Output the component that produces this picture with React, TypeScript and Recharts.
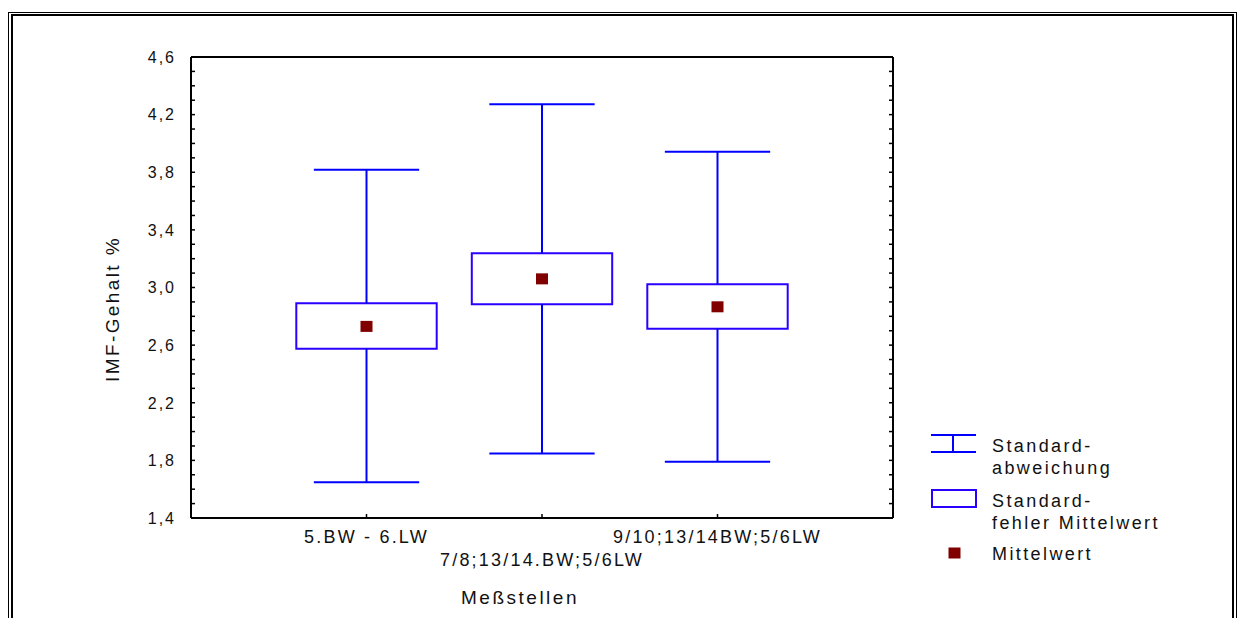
import React from 'react';
import { ComposedChart, XAxis, YAxis, Scatter, ReferenceArea, ReferenceLine, Legend } from 'recharts';

const categories = ['5.BW - 6.LW', '7/8;13/14.BW;5/6LW', '9/10;13/14BW;5/6LW'];
const positions = [1, 2, 3];
const means = [2.73, 3.06, 2.866];
const sdLow = [1.649, 1.848, 1.79];
const sdHigh = [3.817, 4.272, 3.942];
const seLow = [2.574, 2.883, 2.713];
const seHigh = [2.89, 3.237, 3.022];
const yTicks = [1.4, 1.5, 1.6, 1.7, 1.8, 1.9, 2.0, 2.1, 2.2, 2.3, 2.4, 2.5, 2.6, 2.7, 2.8, 2.9, 3.0, 3.1, 3.2, 3.3, 3.4, 3.5, 3.6, 3.7, 3.8, 3.9, 4.0, 4.1, 4.2, 4.3, 4.4, 4.5, 4.6];
const yLabelTicks = [1.4, 1.8, 2.2, 2.6, 3.0, 3.4, 3.8, 4.2, 4.6];
const legendLabels = [['Standard-', 'abweichung'], ['Standard-', 'fehler Mittelwert'], ['Mittelwert']];
const xTitle = 'Meßstellen';
const yTitle = 'IMF-Gehalt %';

const FONT = '"Liberation Sans", Arial, sans-serif';
const WHISKER = '#0000ff';
const BOX = '#2a00ff';
const MEAN = '#800000';
const CAP = 0.3;
const HALF = 0.4;

const data = positions.map((p, i) => ({ x: p, y: means[i] }));

const isMajor = (v: number) => yLabelTicks.some((t) => Math.abs(t - v) < 1e-6);

const LeftTick = (props: any) => {
  const { x, y, payload } = props;
  const v = payload.value as number;
  return (
    <g>
      <line x1={x} x2={x + 4} y1={y} y2={y} stroke="#000" strokeWidth={1.5} />
      {isMajor(v) && (
        <text x={x - 15} y={y} dy="0.36em" textAnchor="end" fontFamily={FONT} fontSize={16} fill="#111" style={{ letterSpacing: '2px' }}>
          {v.toFixed(1).replace('.', ',')}
        </text>
      )}
    </g>
  );
};

const RightTick = (props: any) => {
  const { x, y } = props;
  return <line x1={x - 4} x2={x} y1={y} y2={y} stroke="#000" strokeWidth={1.5} />;
};

const BottomTick = (props: any) => {
  const { x, y, payload } = props;
  const idx = positions.indexOf(payload.value);
  const label = categories[idx] ?? '';
  const dy = idx === 1 ? 48 : 25;
  return (
    <g>
      <line x1={x} x2={x} y1={y - 4} y2={y} stroke="#000" strokeWidth={1.5} />
      <text x={x} y={y + dy} textAnchor="middle" fontFamily={FONT} fontSize={18} fill="#111" style={{ letterSpacing: '2.2px' }}>
        {label}
      </text>
    </g>
  );
};

const XTitle = (props: any) => {
  const vb = props.viewBox || { x: 183, y: 510, width: 702 };
  return (
    <text x={vb.x + vb.width / 2 - 22} y={596} textAnchor="middle" fontFamily={FONT} fontSize={19} fill="#111" style={{ letterSpacing: '2.5px' }}>
      {xTitle}
    </text>
  );
};

const YTitle = () => (
  <text x={104} y={301} transform="rotate(-90 104 301)" textAnchor="middle" dy="0.36em" fontFamily={FONT} fontSize={19} fill="#111" style={{ letterSpacing: '2.4px' }}>
    {yTitle}
  </text>
);

const MeanShape = (props: any) => {
  const { cx, cy } = props;
  return <rect x={cx - 6} y={cy - 5.5} width={12} height={11} fill={MEAN} />;
};

const NoShape = () => <g />;

const LegendContent = () => (
  <svg width={300} height={160} style={{ display: 'block' }}>
    <g fontFamily={FONT} fontSize={18} fill="#111" style={{ letterSpacing: '2.4px' }}>
      <line x1={16} x2={61} y1={15} y2={15} stroke={WHISKER} strokeWidth={2} />
      <line x1={16} x2={61} y1={32} y2={32} stroke={WHISKER} strokeWidth={2} />
      <line x1={38} x2={38} y1={15} y2={32} stroke={WHISKER} strokeWidth={2} />
      <text x={77} y={32}>{legendLabels[0][0]}</text>
      <text x={77} y={54}>{legendLabels[0][1]}</text>
      <rect x={17} y={70} width={44} height={17} fill="#fff" stroke={BOX} strokeWidth={2} />
      <text x={77} y={87}>{legendLabels[1][0]}</text>
      <text x={77} y={109}>{legendLabels[1][1]}</text>
      <rect x={33.5} y={127.5} width={12} height={11} fill={MEAN} />
      <text x={77} y={140}>{legendLabels[2][0]}</text>
    </g>
  </svg>
);

export default function App() {
  return (
    <div style={{ position: 'relative', width: 1229, height: 610, overflow: 'hidden', background: '#fff' }}>
      <div style={{ position: 'absolute', left: 0, top: 4, width: 1229, height: 700, border: '1px solid #000', boxSizing: 'border-box' }} />
      <div style={{ position: 'absolute', left: 3, top: 6, width: 1223, height: 700, border: '2px solid #000', boxSizing: 'border-box' }} />
      <div style={{ position: 'absolute', left: 0, top: 0 }}>
        <ComposedChart width={1229} height={610} data={data} margin={{ top: 48, right: 343, bottom: 0, left: 0 }}>
          <XAxis
            dataKey="x"
            type="number"
            domain={[0, 4]}
            ticks={positions}
            interval={0}
            allowDataOverflow
            height={100}
            tickSize={0}
            tickMargin={0}
            tickLine={false}
            axisLine={{ stroke: '#000', strokeWidth: 2 }}
            tick={<BottomTick />}
            label={<XTitle />}
          />
          <XAxis
            xAxisId="top"
            dataKey="x"
            orientation="top"
            type="number"
            domain={[0, 4]}
            ticks={positions}
            allowDataOverflow
            height={1}
            tick={false}
            tickLine={false}
            axisLine={{ stroke: '#000', strokeWidth: 2 }}
          />
          <YAxis
            type="number"
            domain={[1.4, 4.6]}
            ticks={yTicks}
            interval={0}
            allowDataOverflow
            width={183}
            tickSize={0}
            tickMargin={0}
            tickLine={false}
            axisLine={{ stroke: '#000', strokeWidth: 2 }}
            tick={<LeftTick />}
            label={<YTitle />}
          />
          <YAxis
            yAxisId="right"
            orientation="right"
            type="number"
            domain={[1.4, 4.6]}
            ticks={yTicks}
            interval={0}
            allowDataOverflow
            width={1}
            tickSize={0}
            tickMargin={0}
            tickLine={false}
            axisLine={{ stroke: '#000', strokeWidth: 2 }}
            tick={<RightTick />}
          />
          {positions.map((p, i) => (
            <ReferenceLine key={`wu${i}`} segment={[{ x: p, y: seHigh[i] }, { x: p, y: sdHigh[i] }]} stroke={WHISKER} strokeWidth={2} />
          ))}
          {positions.map((p, i) => (
            <ReferenceLine key={`wl${i}`} segment={[{ x: p, y: sdLow[i] }, { x: p, y: seLow[i] }]} stroke={WHISKER} strokeWidth={2} />
          ))}
          {positions.map((p, i) => (
            <ReferenceLine key={`cu${i}`} segment={[{ x: p - CAP, y: sdHigh[i] }, { x: p + CAP, y: sdHigh[i] }]} stroke={WHISKER} strokeWidth={2} />
          ))}
          {positions.map((p, i) => (
            <ReferenceLine key={`cl${i}`} segment={[{ x: p - CAP, y: sdLow[i] }, { x: p + CAP, y: sdLow[i] }]} stroke={WHISKER} strokeWidth={2} />
          ))}
          {positions.map((p, i) => (
            <ReferenceArea key={`b${i}`} x1={p - HALF} x2={p + HALF} y1={seLow[i]} y2={seHigh[i]} fill="#fff" fillOpacity={0} stroke={BOX} strokeWidth={2} strokeOpacity={1} />
          ))}
          <Scatter xAxisId="top" yAxisId="right" dataKey="y" isAnimationActive={false} shape={<NoShape />} legendType="none" />
          <Scatter dataKey="y" isAnimationActive={false} shape={<MeanShape />} />
          <Legend layout="horizontal" verticalAlign="middle" align="center" content={<LegendContent />} wrapperStyle={{ left: 907, top: 412, width: 300, height: 160 }} />
        </ComposedChart>
      </div>
    </div>
  );
}
